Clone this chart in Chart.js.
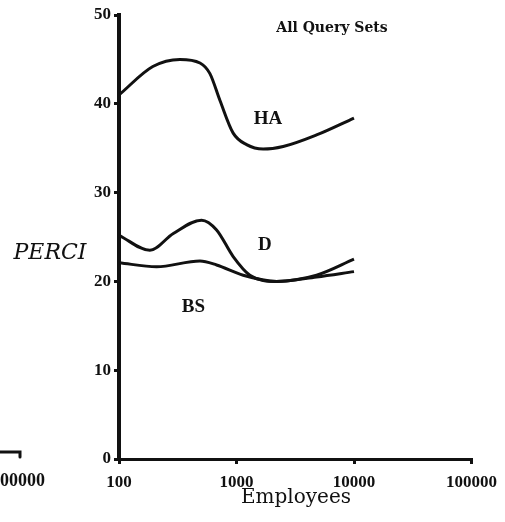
<!DOCTYPE html>
<html>
<head>
<meta charset="utf-8">
<script src="https://cdn.jsdelivr.net/npm/chart.js@4/dist/chart.umd.min.js"></script>
<style>
  body { margin: 0; background: #fff; }
  canvas { display: block; }
</style>
</head>
<body>
<canvas id="perciChart" width="505" height="522"></canvas>
<script>
// values (Employees on a log axis)
const haEmployees = [100, 194, 330, 489, 594, 722, 937, 1219, 1687, 2496, 4800, 10000];
const haPerci = [41.0, 44.2, 45.0, 44.6, 43.4, 40.4, 36.7, 35.4, 34.9, 35.2, 36.5, 38.4];

const dEmployees = [100, 183, 290, 505, 677, 937, 1300, 2193, 4800, 10000];
const dPerci = [25.2, 23.5, 25.4, 26.9, 25.8, 22.8, 20.7, 20.0, 20.7, 22.5];

const bsEmployees = [100, 209, 489, 677, 1140, 2193, 4800, 10000];
const bsPerci = [22.1, 21.65, 22.3, 21.85, 20.7, 20.0, 20.5, 21.1];

const xTicks = [100, 1000, 10000, 100000];
const yTicks = [0, 10, 20, 30, 40, 50];

// curve labels: [text, employees, perci]
const curveLabels = [["HA", 1850, 38.3], ["D", 1740, 24.1], ["BS", 430, 17.1]];

const ink = "#111";

function toPoints(xs, ys) {
  return xs.map((x, i) => ({ x: x, y: ys[i] }));
}

function series(label, xs, ys) {
  return {
    label: label,
    data: toPoints(xs, ys),
    borderColor: ink,
    borderWidth: 3,
    pointRadius: 0,
    fill: false,
    cubicInterpolationMode: "monotone"
  };
}

const extraText = {
  id: "extraText",
  afterDraw(chart) {
    const ctx = chart.ctx;
    const x = chart.scales.x;
    const y = chart.scales.y;
    ctx.save();
    ctx.fillStyle = ink;
    ctx.textAlign = "center";
    ctx.textBaseline = "middle";

    ctx.font = "bold 19px 'Liberation Serif'";
    curveLabels.forEach(([t, ex, py]) => {
      ctx.fillText(t, x.getPixelForValue(ex), y.getPixelForValue(py));
    });

    ctx.font = "bold 14px 'DejaVu Serif'";
    ctx.fillText("All Query Sets", 332, 28);

    ctx.font = "italic 22px 'DejaVu Serif'";
    ctx.fillText("PERCI", 50, 253);

    ctx.font = "20px 'DejaVu Serif'";
    ctx.fillText("Employees", 296, 498);

    // piece of the neighbouring chart at the left edge
    ctx.font = "bold 18px 'Liberation Serif'";
    ctx.textAlign = "right";
    ctx.fillText("100000", 45, 481);
    ctx.strokeStyle = ink;
    ctx.lineWidth = 3;
    ctx.lineCap = "round";
    ctx.beginPath();
    ctx.moveTo(0, 452);
    ctx.lineTo(20, 452);
    ctx.lineTo(20, 457);
    ctx.stroke();
    ctx.restore();
  }
};

new Chart(document.getElementById("perciChart"), {
  type: "line",
  data: {
    datasets: [
      series("HA", haEmployees, haPerci),
      series("D", dEmployees, dPerci),
      series("BS", bsEmployees, bsPerci)
    ]
  },
  options: {
    responsive: false,
    animation: false,
    layout: { padding: { top: 15, right: 33, left: 0, bottom: 0 } },
    plugins: { legend: { display: false }, tooltip: { enabled: false } },
    scales: {
      x: {
        type: "logarithmic",
        min: 100,
        max: 100000,
        afterBuildTicks: s => { s.ticks = xTicks.map(v => ({ value: v })); },
        afterFit: s => { s.height = 63; },
        border: { color: ink, width: 3 },
        grid: { drawOnChartArea: false, color: ink, lineWidth: 3, tickLength: 5 },
        ticks: {
          color: ink,
          padding: 8,
          maxRotation: 0,
          font: { family: "Liberation Serif", weight: "bold", size: 17 },
          callback: v => String(v)
        }
      },
      y: {
        min: 0,
        max: 50,
        afterBuildTicks: s => { s.ticks = yTicks.map(v => ({ value: v })); },
        afterFit: s => { s.width = 119; },
        border: { color: ink, width: 4 },
        grid: { drawOnChartArea: false, color: ink, lineWidth: 3, tickLength: 5 },
        ticks: {
          color: ink,
          padding: 3,
          font: { family: "Liberation Serif", weight: "bold", size: 17 }
        }
      }
    }
  },
  plugins: [extraText]
});
</script>
</body>
</html>
